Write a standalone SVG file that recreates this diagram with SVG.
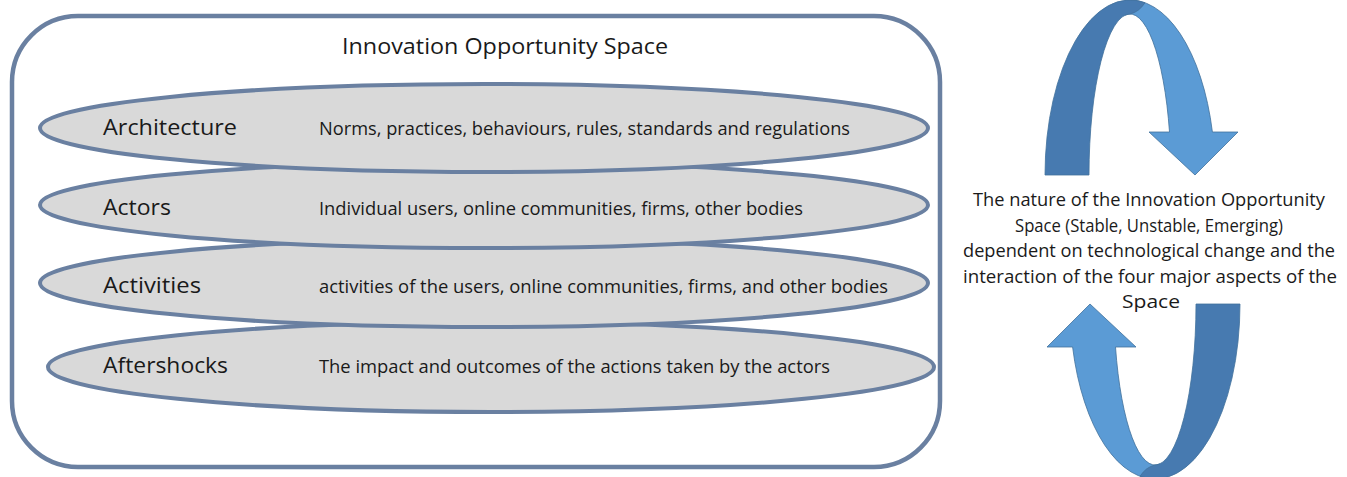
<svg xmlns="http://www.w3.org/2000/svg" width="1347" height="477" viewBox="0 0 1347 477">
<style>
.frame{fill:#ffffff;stroke:#6a80a1;stroke-width:4.5}
.layer{fill:#d9d9d9;stroke:#6a80a1;stroke-width:4}
.t{font-family:"Open Sans","Liberation Sans",sans-serif;fill:#1a1a1a}
.big{font-size:22.5px}
.small{font-size:17.5px}
.light{fill:#5b9bd5;stroke:#41719c;stroke-width:0.8}
.dark{fill:#477ab0;stroke:#41719c;stroke-width:0.8}
</style>
<defs>
<g id="arrowShape">
<path class="light" d="M1136,347 L1090,304 L1047,347 L1072.6,347 A85 175 0 0 0 1160,478.7 L1160,463.8 A41 161 0 0 1 1115.5,347 Z"/>
<path class="dark" d="M1240,304 A85 175 0 0 1 1140,476.3 Q1146,467 1155,465 A41 161 0 0 0 1196,304 Z"/>
</g>
</defs>
<g id="space">
<rect class="frame" x="12" y="16" width="928" height="451" rx="66" ry="66"/>
<text class="t big" x="342" y="54" textLength="326" lengthAdjust="spacingAndGlyphs">Innovation Opportunity Space</text>
</g>
<g id="aftershocks">
<ellipse class="layer" cx="491" cy="367" rx="443" ry="45"/>
<text class="t big" x="103" y="373" textLength="125" lengthAdjust="spacingAndGlyphs">Aftershocks</text>
<text class="t small" x="319" y="373" textLength="511" lengthAdjust="spacingAndGlyphs">The impact and outcomes of the actions taken by the actors</text>
</g>
<g id="activities">
<ellipse class="layer" cx="484" cy="283" rx="444" ry="44"/>
<text class="t big" x="103" y="293" textLength="98" lengthAdjust="spacingAndGlyphs">Activities</text>
<text class="t small" x="319" y="293" textLength="569" lengthAdjust="spacingAndGlyphs">activities of the users, online communities, firms, and other bodies</text>
</g>
<g id="actors">
<ellipse class="layer" cx="484" cy="205" rx="444" ry="43"/>
<text class="t big" x="103" y="215" textLength="68" lengthAdjust="spacingAndGlyphs">Actors</text>
<text class="t small" x="319" y="215" textLength="484" lengthAdjust="spacingAndGlyphs">Individual users, online communities, firms, other bodies</text>
</g>
<g id="architecture">
<ellipse class="layer" cx="484" cy="128" rx="444" ry="44"/>
<text class="t big" x="103" y="135" textLength="134" lengthAdjust="spacingAndGlyphs">Architecture</text>
<text class="t small" x="319" y="135" textLength="531" lengthAdjust="spacingAndGlyphs">Norms, practices, behaviours, rules, standards and regulations</text>
</g>
<g id="connectors">
<use href="#arrowShape" transform="rotate(180 1142.5 239.5)"/>
<use href="#arrowShape"/>
</g>
<g id="nature">
<text class="t small" x="1149" y="206" text-anchor="middle" textLength="352" lengthAdjust="spacingAndGlyphs">The nature of the Innovation Opportunity</text>
<text class="t small" x="1149" y="231.5" text-anchor="middle" textLength="268" lengthAdjust="spacingAndGlyphs">Space (Stable, Unstable, Emerging)</text>
<text class="t small" x="1149" y="257" text-anchor="middle" textLength="372" lengthAdjust="spacingAndGlyphs">dependent on technological change and the</text>
<text class="t small" x="1150" y="282.5" text-anchor="middle" textLength="374" lengthAdjust="spacingAndGlyphs">interaction of the four major aspects of the</text>
<text class="t small" x="1151" y="308" text-anchor="middle" textLength="58" lengthAdjust="spacingAndGlyphs">Space</text>
</g>
</svg>
